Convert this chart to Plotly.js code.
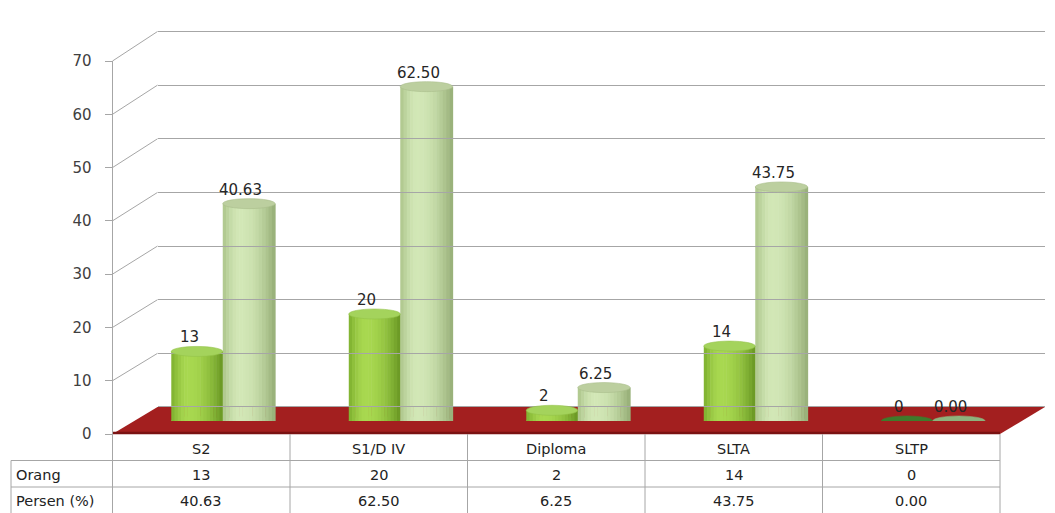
<!DOCTYPE html>
<html><head><meta charset="utf-8">
<script src="https://cdn.plot.ly/plotly-3.0.1.min.js"></script>
<style>html,body{margin:0;padding:0;background:#fff}#chart{width:1055px;height:513px}</style>
</head><body><div id="chart"></div>
<script>
// ---- data ----
const categories = ['S2', 'S1/D IV', 'Diploma', 'SLTA', 'SLTP'];
const orang = [13, 20, 2, 14, 0];
const persen = [40.63, 62.50, 6.25, 43.75, 0.00];
const rowLabels = ['Orang', 'Persen (%)'];
const yTickValues = [0, 10, 20, 30, 40, 50, 60, 70];

// ---- geometry (pixels) ----
const W = 1055, H = 513;
const fx = x => x / W, fy = y => 1 - y / H;
const FRONT_L = 112.5, COLW = 177.5, NC = categories.length;
const FRONT_R = FRONT_L + COLW * NC;
const DX = 45;
const FRONT_Y0 = 434, FRONT_Y70 = 61;
const BACK_Y0 = 407, BACK_Y70 = 31.5;
const MID_Y0 = 421, MID_Y70 = 46.5;
const MID_L = 134, MID_R = MID_L + COLW * NC;
const YMAX = 70;
const EH = 5 / ((MID_Y0 - MID_Y70) / YMAX);
const BACK_PPU = (BACK_Y0 - BACK_Y70) / YMAX;
const FONT = 'DejaVu Sans, Verdana, sans-serif';

const series = [
  {vals: orang, offset: -0.29, width: 0.29, edgeL: [118, 168, 40], peak: [168, 216, 80], edgeR: [92, 138, 26],
   top: '#a4d35c', topLine: '#93c24a', bottom: '#8cbf3a', zero: '#3f7a2b', fmt: v => String(v)},
  {vals: persen, offset: 0.0, width: 0.295, edgeL: [166, 192, 132], peak: [210, 231, 182], edgeR: [138, 163, 106],
   top: '#bccf9f', topLine: '#a9bd8b', bottom: '#bcd49c', zero: '#8db27c', fmt: v => v.toFixed(2)}
];

const N = 16;
function mixColor(s, t) {
  const f = t < 0.32 ? Math.sin(Math.PI / 2 * t / 0.32) : Math.cos(Math.PI / 2 * (t - 0.32) / 0.68);
  const m = 0.15 + 0.85 * f;
  const c = [0, 1, 2].map(j => {
    const edge = s.edgeL[j] + (s.edgeR[j] - s.edgeL[j]) * t;
    return Math.round(edge + (s.peak[j] - edge) * m);
  });
  return 'rgb(' + c.join(',') + ')';
}

const traces = [];
series.forEach(s => {
  for (let k = 0; k < N; k++) {
    const t = (k + 0.5) / N;
    traces.push({
      type: 'bar', x: categories, y: s.vals, xaxis: 'x', yaxis: 'y',
      offset: s.offset + k * s.width / N, width: s.width / N + 0.003,
      marker: {color: mixColor(s, t), line: {width: 0}},
      hoverinfo: 'skip', showlegend: false
    });
  }
});
// helper traces so the extra axes are drawn
traces.push({type: 'scatter', x: [0.5], y: [0], xaxis: 'x2', yaxis: 'y2', mode: 'markers', marker: {opacity: 0}, hoverinfo: 'skip', showlegend: false});
traces.push({type: 'scatter', x: [0.5], y: [0], xaxis: 'x3', yaxis: 'y3', mode: 'markers', marker: {opacity: 0}, hoverinfo: 'skip', showlegend: false});

const shapes = [];
const annotations = [];
const grey = '#a6a6a6';

// floor
shapes.push({type: 'path', xref: 'paper', yref: 'paper', layer: 'below',
  path: `M ${fx(FRONT_L)} ${fy(FRONT_Y0)} L ${fx(FRONT_L + DX)} ${fy(BACK_Y0)} L ${fx(FRONT_R + DX)} ${fy(BACK_Y0)} L ${fx(FRONT_R)} ${fy(FRONT_Y0)} Z`,
  fillcolor: '#a31f1f', line: {width: 0}});
shapes.push({type: 'line', xref: 'paper', yref: 'paper', layer: 'below',
  x0: fx(FRONT_L), x1: fx(FRONT_R), y0: fy(FRONT_Y0 - 1), y1: fy(FRONT_Y0 - 1), line: {color: '#7a1212', width: 2.5}});

// perspective lines on the side wall
yTickValues.forEach(v => {
  const yf = FRONT_Y0 - v * (FRONT_Y0 - FRONT_Y70) / YMAX;
  const yb = BACK_Y0 - v * (BACK_Y0 - BACK_Y70) / YMAX;
  if (v > 0) shapes.push({type: 'line', xref: 'paper', yref: 'paper', layer: 'below',
    x0: fx(FRONT_L), y0: fy(yf), x1: fx(FRONT_L + DX), y1: fy(yb), line: {color: grey, width: 1}});
});

// cylinder ends and value labels
series.forEach(s => {
  s.vals.forEach((v, i) => {
    const x0 = i + s.offset, x1 = i + s.offset + s.width;
    if (v > 0) {
      shapes.push({type: 'circle', xref: 'x', yref: 'y', layer: 'between', x0, x1, y0: -EH, y1: EH,
        fillcolor: s.bottom, line: {width: 0}});
    }
    shapes.push({type: 'circle', xref: 'x', yref: 'y', layer: 'above', x0, x1, y0: v - EH, y1: v + EH,
      fillcolor: v > 0 ? s.top : s.zero, line: {color: v > 0 ? s.topLine : s.zero, width: 0.6}});
    annotations.push({xref: 'x', yref: 'y', x: (x0 + x1) / 2, y: v, text: s.fmt(v), showarrow: false,
      xanchor: 'center', yanchor: 'middle', xshift: -8, yshift: 14,
      font: {family: FONT, size: 15, color: '#262626'}});
  });
});

// data table
const TAB_L = 11, ROW1 = 460.5, ROW2 = 487, TAB_B = 514;
[ROW1, ROW2].forEach(y => shapes.push({type: 'line', xref: 'paper', yref: 'paper', layer: 'above',
  x0: fx(TAB_L), x1: fx(FRONT_R), y0: fy(y), y1: fy(y), line: {color: grey, width: 1}}));
shapes.push({type: 'line', xref: 'paper', yref: 'paper', layer: 'above',
  x0: fx(TAB_L), x1: fx(TAB_L), y0: fy(ROW1), y1: fy(TAB_B), line: {color: grey, width: 1}});
for (let k = 0; k <= NC; k++) {
  const x = FRONT_L + k * COLW;
  shapes.push({type: 'line', xref: 'paper', yref: 'paper', layer: 'above',
    x0: fx(x), x1: fx(x), y0: fy(FRONT_Y0), y1: fy(TAB_B), line: {color: grey, width: 1}});
}
const tfont = {family: FONT, size: 14.5, color: '#222'};
function cell(x, y, text, xanchor) {
  annotations.push({xref: 'paper', yref: 'paper', x: fx(x), y: fy(y), text, showarrow: false,
    xanchor: xanchor || 'center', yanchor: 'middle', font: tfont});
}
categories.forEach((c, i) => {
  const cx = FRONT_L + (i + 0.5) * COLW;
  cell(cx, 448.5, c);
  cell(cx, 474.5, String(orang[i]));
  cell(cx, 500.5, persen[i].toFixed(2));
});
cell(14, 474.5, rowLabels[0], 'left');
cell(14, 500.5, rowLabels[1], 'left');

const layout = {
  width: W, height: H, margin: {l: 0, r: 0, t: 0, b: 0},
  paper_bgcolor: '#ffffff', plot_bgcolor: 'rgba(0,0,0,0)',
  barmode: 'overlay', showlegend: false, hovermode: false,
  xaxis: {domain: [fx(MID_L), fx(MID_R)], range: [-0.5, NC - 0.5], type: 'category',
    showticklabels: false, showgrid: false, zeroline: false, showline: false, ticks: '', fixedrange: true},
  yaxis: {domain: [fy(MID_Y0), fy(MID_Y70)], range: [0, YMAX], visible: false, fixedrange: true},
  xaxis2: {domain: [fx(FRONT_L), fx(FRONT_L + 1)], range: [0, 1], visible: false, anchor: 'y2'},
  yaxis2: {domain: [fy(FRONT_Y0), fy(FRONT_Y70)], range: [0, YMAX], anchor: 'x2', side: 'left',
    tickvals: yTickValues, ticks: 'outside', ticklen: 7, tickcolor: grey, tickwidth: 1,
    showline: true, linecolor: grey, linewidth: 1, showgrid: false, zeroline: false,
    ticklabelstandoff: 10,
    tickfont: {family: FONT, size: 15, color: '#404040'}},
  xaxis3: {domain: [fx(FRONT_L + DX), fx(FRONT_R + DX)], range: [0, 1], visible: false, anchor: 'y3'},
  yaxis3: {domain: [fy(BACK_Y0 + BACK_PPU), fy(BACK_Y70 - BACK_PPU)], range: [-1, YMAX + 1], anchor: 'x3',
    tickvals: yTickValues, showgrid: true, gridcolor: grey, gridwidth: 1,
    showticklabels: false, ticks: '', zeroline: false, showline: false},
  shapes, annotations
};

Plotly.newPlot('chart', traces, layout, {displayModeBar: false, staticPlot: true});
</script>
</body></html>
